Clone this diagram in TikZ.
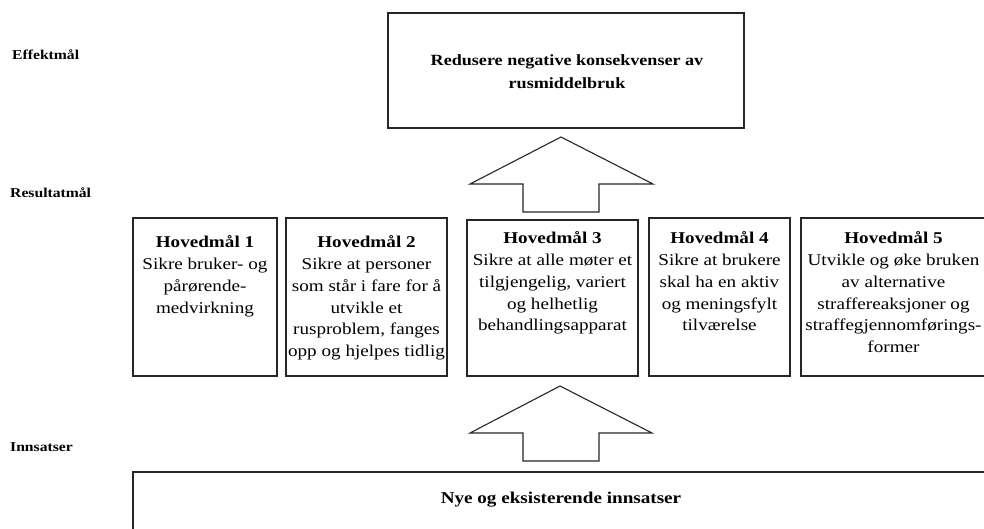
\documentclass[tikz,border=0pt]{standalone}
\usepackage{fontspec}
\setmainfont[FakeStretch=1.16]{Liberation Serif}
\begin{document}
\begin{tikzpicture}[x=1pt,y=-1pt,
  box/.style={draw=black!85,line width=1.1pt,rectangle,inner sep=0pt},
  boxtext/.style={anchor=north,align=center,inner sep=0pt,font=\fontsize{16.5}{21.8}\selectfont},
  lvl/.style={anchor=west,inner sep=0pt,font=\fontsize{13.5}{15}\selectfont\bfseries},
  bigarrow/.style={draw=black!85,line width=1.1pt,line join=miter}]
\useasboundingbox (0,0) rectangle (984,528);
\clip (0,0) rectangle (984,528);
% level labels
\node[lvl] (l1) at (12,55) {Effektmål};
\node[lvl] (l2) at (10,193) {Resultatmål};
\node[lvl] (l3) at (10,447) {Innsatser};
% top box
\node[box,minimum width=356pt,minimum height=115pt] (top) at (566,70.5) {};
\node[align=center,inner sep=0pt,font=\fontsize{15.6}{23}\selectfont\bfseries] (toptext) at (567,72) {Redusere negative konsekvenser av\\rusmiddelbruk};
% arrow 1
\draw[bigarrow] (561,137) coordinate (a1tip) -- (653,184) -- (599,184) -- (599,212) -- (523,212) -- (523,184) -- (470,184) -- cycle;
% goal boxes
\node[box,minimum width=144pt,minimum height=158pt] (b1) at (205,297) {};
\node[box,minimum width=161pt,minimum height=158pt] (b2) at (366.5,297) {};
\node[box,minimum width=171pt,minimum height=156pt] (b3) at (552.5,298) {};
\node[box,minimum width=141pt,minimum height=158pt] (b4) at (719.5,297) {};
\node[box,minimum width=185pt,minimum height=158pt] (b5) at (893.5,297) {};
\node[boxtext] (t1) at ([yshift=-18pt]b1.north) {\textbf{Hovedmål 1}\\Sikre bruker- og\\pårørende-\\medvirkning};
\node[boxtext] (t2) at ([yshift=-18pt]b2.north) {\textbf{Hovedmål 2}\\Sikre at personer\\som står i fare for å\\utvikle et\\rusproblem, fanges\\opp og hjelpes tidlig};
\node[boxtext] (t3) at ([yshift=-12pt]b3.north) {\textbf{Hovedmål 3}\\Sikre at alle møter et\\tilgjengelig, variert\\og helhetlig\\behandlingsapparat};
\node[boxtext] (t4) at ([yshift=-14pt]b4.north) {\textbf{Hovedmål 4}\\Sikre at brukere\\skal ha en aktiv\\og meningsfylt\\tilværelse};
\node[boxtext] (t5) at ([yshift=-14pt]b5.north) {\textbf{Hovedmål 5}\\Utvikle og øke bruken\\av alternative\\straffereaksjoner og\\straffegjennomførings-\\former};
% arrow 2
\draw[bigarrow] (560,386) coordinate (a2tip) -- (652,433) -- (599,433) -- (599,461) -- (523,461) -- (523,433) -- (470,433) -- cycle;
% bottom box
\node[box,minimum width=855pt,minimum height=70pt] (bot) at (560.5,507) {};
\node[inner sep=0pt,font=\fontsize{16.5}{18}\selectfont\bfseries] (bottext) at (561,500) {Nye og eksisterende innsatser};
\end{tikzpicture}
\end{document}
